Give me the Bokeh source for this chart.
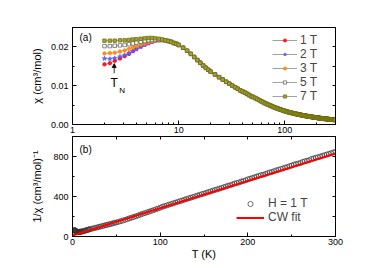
from bokeh.plotting import figure
from bokeh.layouts import column
from bokeh.models import (Range1d, LinearAxis, FixedTicker, PrintfTickFormatter,
                          Legend, LegendItem, Label, Arrow, NormalHead,
                          CustomJSTickFormatter)
from bokeh.embed import file_html
from bokeh.resources import INLINE

FONT = "Liberation Sans"

# ---------------- data ----------------
# low-temperature part, one array per field
T_low = [2.0, 2.25, 2.5, 2.8, 3.1, 3.4, 3.7, 4.0, 4.4, 4.8, 5.2, 5.6, 6.0, 6.5, 7.0, 7.5]
chi_1T_low = [0.0155, 0.0158, 0.0164, 0.0170, 0.0176, 0.0182, 0.0189, 0.0195, 0.0201, 0.0206,
              0.0210, 0.0213, 0.0216, 0.0217, 0.0218, 0.0217]
chi_2T_low = [0.0170, 0.0169, 0.0171, 0.0175, 0.0179, 0.0184, 0.0189, 0.0194, 0.0200, 0.0205,
              0.0209, 0.0212, 0.0215, 0.0217, 0.0217, 0.0217]
chi_3T_low = [0.0183, 0.0184, 0.0185, 0.0188, 0.0191, 0.0195, 0.0199, 0.0202, 0.0206, 0.0209,
              0.0212, 0.0214, 0.0216, 0.0217, 0.0217, 0.0216]
chi_5T_low = [0.0202, 0.0202, 0.0203, 0.0204, 0.0205, 0.0207, 0.0209, 0.0211, 0.0213, 0.0215,
              0.0217, 0.0218, 0.0218, 0.0218, 0.0218, 0.0217]
chi_7T_low = [0.0216, 0.0216, 0.0216, 0.0217, 0.0217, 0.0218, 0.0219, 0.0220, 0.0221, 0.0222,
              0.0223, 0.0223, 0.0222, 0.0221, 0.0219, 0.0217]

# intermediate temperatures (all fields coincide)
T_mid = [8.0, 8.5, 9.0, 9.5, 10, 11, 12, 13, 14, 15, 16, 17, 18, 19, 20,
         22, 24, 26, 28, 30, 32, 34, 36, 38, 40, 42, 44, 46, 48, 50]
chi_mid = [0.0215, 0.0213, 0.0210, 0.0208, 0.0205, 0.0198, 0.0190, 0.0182, 0.0174, 0.0166,
           0.0159, 0.0152, 0.0146, 0.0141, 0.0136,
           0.0129, 0.0122, 0.0116, 0.0110, 0.0105, 0.0100, 0.0096, 0.0092, 0.0088, 0.0085,
           0.0082, 0.0079, 0.0076, 0.0073, 0.0071]

# high temperatures (all fields coincide)
T_high = [52.5, 55, 57.5, 60, 62.5, 65, 67.5, 70, 72.5, 75, 77.5, 80, 82.5, 85, 87.5, 90,
          92.5, 95, 97.5, 100, 102.5, 105, 107.5, 110, 112.5, 115, 117.5, 120, 122.5, 125,
          127.5, 130, 132.5, 135, 137.5, 140, 142.5, 145, 147.5, 150, 152.5, 155, 157.5, 160,
          162.5, 165, 167.5, 170, 172.5, 175, 177.5, 180, 182.5, 185, 187.5, 190, 192.5, 195,
          197.5, 200, 202.5, 205, 207.5, 210, 212.5, 215, 217.5, 220, 222.5, 225, 227.5, 230,
          232.5, 235, 237.5, 240, 242.5, 245, 247.5, 250, 252.5, 255, 257.5, 260, 262.5, 265,
          267.5, 270, 272.5, 275, 277.5, 280, 282.5, 285, 287.5, 290, 292.5, 295, 297.5, 300]
chi_high = [0.00682, 0.00655, 0.00627, 0.00600, 0.00575, 0.00550, 0.00529, 0.00510, 0.00493,
            0.00475, 0.00457, 0.00440, 0.00427, 0.00415, 0.00402, 0.00390, 0.00379, 0.00368,
            0.00358, 0.00348, 0.00337, 0.00329, 0.00322, 0.00314, 0.00308, 0.00301, 0.00295,
            0.00289, 0.00283, 0.00278, 0.00272, 0.00267, 0.00262, 0.00258, 0.00253, 0.00249,
            0.00244, 0.00240, 0.00236, 0.00233, 0.00229, 0.00225, 0.00222, 0.00218, 0.00215,
            0.00212, 0.00209, 0.00206, 0.00203, 0.00200, 0.00197, 0.00195, 0.00192, 0.00189,
            0.00187, 0.00185, 0.00182, 0.00180, 0.00178, 0.00175, 0.00173, 0.00171, 0.00169,
            0.00167, 0.00165, 0.00163, 0.00162, 0.00160, 0.00158, 0.00156, 0.00155, 0.00153,
            0.00151, 0.00150, 0.00148, 0.00147, 0.00145, 0.00144, 0.00142, 0.00141, 0.00139,
            0.00138, 0.00137, 0.00136, 0.00134, 0.00133, 0.00132, 0.00131, 0.00129, 0.00128,
            0.00127, 0.00126, 0.00125, 0.00124, 0.00123, 0.00122, 0.00121, 0.00120, 0.00119,
            0.00118]

fields = ["1 T", "2 T", "3 T", "5 T", "7 T"]

fit_T = [0, 300]
fit_inv_chi = [10, 830]

x_major_log = [1, 10, 100]
x_minor_log = [2, 3, 4, 5, 6, 7, 8, 9, 20, 30, 40, 50, 60, 70, 80, 90, 200, 300]

# ---------------- helpers ----------------
def style_axis(ax):
    ax.major_tick_in = 4
    ax.major_tick_out = 0
    ax.minor_tick_in = 2
    ax.minor_tick_out = 0
    ax.axis_line_color = "black"
    ax.major_tick_line_color = "black"
    ax.minor_tick_line_color = "black"
    ax.major_label_text_font = FONT
    ax.major_label_text_font_size = "9px"
    ax.major_label_text_color = "black"
    ax.axis_label_text_font = FONT
    ax.axis_label_text_font_size = "11px"
    ax.axis_label_text_font_style = "normal"
    ax.axis_label_text_color = "black"


def mirror_axis(p, side, ticks):
    ax = LinearAxis(ticker=FixedTicker(ticks=ticks),
                    formatter=CustomJSTickFormatter(code="return ''"))
    style_axis(ax)
    ax.major_tick_in = 3
    ax.major_label_text_font_size = "1px"
    ax.major_label_standoff = 0
    p.add_layout(ax, side)
    return ax


# ---------------- panel (a) ----------------
p1 = figure(width=365, height=136, x_axis_type="log",
            x_range=Range1d(1, 300), y_range=Range1d(0, 0.025),
            output_backend="svg", toolbar_location=None,
            min_border_left=72, min_border_right=30, min_border_top=27, min_border_bottom=12)
p1.grid.visible = False
p1.outline_line_color = "black"

xa = p1.xaxis[0]
xa.ticker = FixedTicker(ticks=x_major_log, minor_ticks=x_minor_log)
xa.formatter = PrintfTickFormatter(format="%d")
style_axis(xa)
xa.major_label_standoff = 2

ya = p1.yaxis[0]
ya.ticker = FixedTicker(ticks=[0, 0.01, 0.02], minor_ticks=[0.005, 0.015, 0.025])
ya.formatter = PrintfTickFormatter(format="%.2f")
style_axis(ya)
ya.major_label_standoff = 4
ya.axis_label = "χ (cm³/mol)"
ya.axis_label_standoff = 5

mirror_axis(p1, "right", [0.005, 0.01, 0.015, 0.02])

T_all = T_low + T_mid + T_high
series = [chi_1T_low + chi_mid + chi_high, chi_2T_low + chi_mid + chi_high,
          chi_3T_low + chi_mid + chi_high, chi_5T_low + chi_mid + chi_high,
          chi_7T_low + chi_mid + chi_high]
styles = [
    dict(marker="circle", fill_color="#ff1a1a", line_color="#ff0000", size=3.5),
    dict(marker="star", fill_color="#6a6aff", line_color="#5050ff", size=4.5),
    dict(marker="circle", fill_color="#ff9020", line_color="#ff8000", size=3.5),
    dict(marker="square", fill_color="white", line_color="#555555", size=3.5),
    dict(marker="square", fill_color="#a0a040", line_color="#6e6e00", size=3.5),
]
items = []
for name, chi, st in zip(fields, series, styles):
    ln = p1.line(T_all, chi, line_color="#8a8a8a", line_width=0.8)
    sc = p1.scatter(T_all, chi, line_width=0.7, **st)
    items.append(LegendItem(label=name, renderers=[ln, sc]))

leg1 = Legend(items=items, location=(198, 19), padding=2, spacing=0, margin=0,
              label_height=14, glyph_height=8, glyph_width=25, label_standoff=3,
              label_text_font=FONT, label_text_font_size="12px",
              border_line_alpha=0, background_fill_alpha=0)
p1.add_layout(leg1, "center")

p1.add_layout(Label(x=7, y=87, x_units="screen", y_units="screen", text="(a)",
                    text_font=FONT, text_font_size="10px", text_baseline="middle",
                    text_color="black"))
p1.add_layout(Arrow(end=NormalHead(size=4, fill_color="black", line_color="black", line_width=0.8),
                    x_start=2.47, y_start=0.0132, x_end=2.47, y_end=0.0157,
                    line_width=0.8, line_color="black"))
p1.add_layout(Label(x=2.47, y=0.0108, text="T", text_font=FONT, text_font_size="12px",
                    text_align="center", text_baseline="middle", text_color="black"))
p1.add_layout(Label(x=2.47, y=0.0088, x_offset=5, text="N", text_font=FONT,
                    text_font_size="8px", text_align="left", text_baseline="middle",
                    text_color="black"))

# ---------------- panel (b) ----------------
inv_chi_1T = [1.0 / c for c in series[0]]

p2 = figure(width=365, height=126, x_range=Range1d(0, 300), y_range=Range1d(0, 1000),
            output_backend="svg", toolbar_location=None,
            min_border_left=72, min_border_right=30, min_border_top=0, min_border_bottom=26)
p2.grid.visible = False
p2.outline_line_color = "black"

xb = p2.xaxis[0]
xb.ticker = FixedTicker(ticks=[0, 100, 200, 300], minor_ticks=[50, 150, 250])
style_axis(xb)
xb.major_label_standoff = 2
xb.axis_label = "T (K)"
xb.axis_label_standoff = 0

yb = p2.yaxis[0]
yb.ticker = FixedTicker(ticks=[0, 400, 800], minor_ticks=[200, 600, 1000])
style_axis(yb)
yb.major_label_standoff = 4
yb.axis_label = "1/χ (cm³/mol)⁻¹"
yb.axis_label_standoff = 7

mirror_axis(p2, "right", [200, 400, 600, 800])
mirror_axis(p2, "above", [50, 100, 150, 200, 250])

sc2 = p2.scatter(T_all, inv_chi_1T, marker="circle", size=5, fill_alpha=0,
                 line_color="#333333", line_width=0.7)
ln2 = p2.line(fit_T, fit_inv_chi, line_color="#ff0000", line_width=2)

leg2 = Legend(items=[LegendItem(label="H = 1 T", renderers=[sc2]),
                     LegendItem(label="CW fit", renderers=[ln2])],
              location=(161, 9), padding=3, spacing=0, margin=0,
              label_height=14, glyph_height=13, glyph_width=28, label_standoff=4,
              label_text_font=FONT, label_text_font_size="12px",
              border_line_alpha=0, background_fill_alpha=0)
p2.add_layout(leg2, "center")

p2.add_layout(Label(x=7, y=87.5, x_units="screen", y_units="screen", text="(b)",
                    text_font=FONT, text_font_size="10px", text_baseline="middle",
                    text_color="black"))

layout = column(p1, p2, spacing=0)
open("out.html", "w").write(file_html(layout, INLINE))
